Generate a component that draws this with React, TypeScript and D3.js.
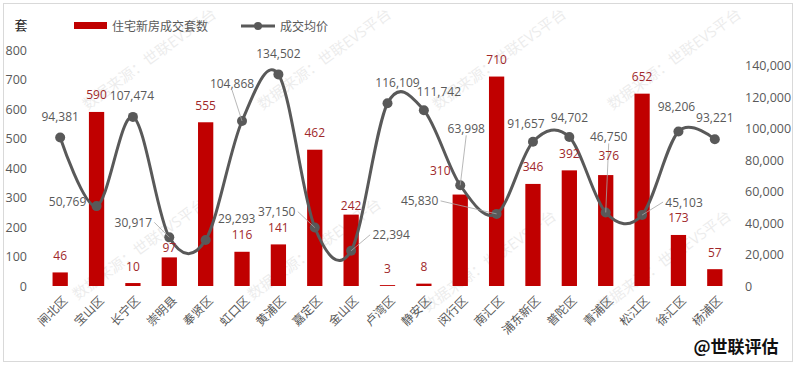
import React from 'react';
import * as d3 from 'd3';

const districts = ['闸北区', '宝山区', '长宁区', '崇明县', '奉贤区', '虹口区', '黄浦区', '嘉定区', '金山区', '卢湾区', '静安区', '闵行区', '南汇区', '浦东新区', '普陀区', '青浦区', '松江区', '徐汇区', '杨浦区'];
const units = [46, 590, 10, 97, 555, 116, 141, 462, 242, 3, 8, 310, 710, 346, 392, 376, 652, 173, 57];
const prices = [94381, 50769, 107474, 30917, 29293, 104868, 134502, 37150, 22394, 116109, 111742, 63998, 45830, 91657, 94702, 46750, 45103, 98206, 93221];
const unitTicks = [0, 100, 200, 300, 400, 500, 600, 700, 800];
const priceTicks = [0, 20000, 40000, 60000, 80000, 100000, 120000, 140000];

// label nudges (dx, dy from the point), leader = draw a thin connector
const priceLabelPos: [number, number, boolean][] = [
  [0, -21, false], [-29, -5, false], [-1, -21, false], [-36, -15, true], [31, -21, false],
  [-10, -38, true], [0, -21, false], [-38, -16, true], [40, -16, true], [10, -21, false],
  [15, -19, false], [6, -57, true], [-77, -13, true], [-7, -18, false], [0, -20, false],
  [3, -76, true], [42, -13, true], [-2, -25, false], [0, -22, false],
];
const unitLabelPos: Record<number, [number, number]> = { 3: [0, -10], 8: [0, -9], 11: [-20, -24], 15: [3, -20] };

const W = 800;
const H = 365;
const RED = '#c00000';
const GREY = '#595959';
const FONT = '"Open Sans", "Noto Sans CJK SC", sans-serif';

const x = d3.scaleBand<string>().domain(districts).range([42, 733]).paddingInner(0.58).paddingOuter(0.29);
const yL = d3.scaleLinear().domain([0, 800]).range([286, 50]);
const yR = d3.scaleLinear().domain([0, 150000]).range([286, 50]);
const cx = (i: number) => x(districts[i])! + x.bandwidth() / 2;

const line = d3
  .line<number>()
  .x((_, i) => cx(i))
  .y((d) => yR(d))
  .curve(d3.curveCatmullRom.alpha(0));

const fmt = d3.format(',');

const marks = [
  { x: 150, y: 60 }, { x: 325, y: 60 }, { x: 500, y: 60 }, { x: 675, y: 60 },
  { x: 140, y: 250 }, { x: 315, y: 250 }, { x: 490, y: 262 }, { x: 665, y: 262 },
];

export default function App() {
  return (
    <svg width={W} height={H} style={{ position: 'absolute', left: 0, top: 0, fontFamily: FONT }}>
      <rect x={0} y={0} width={W} height={H} fill="#fff" />
      <rect x={3.5} y={3.5} width={789} height={358} fill="none" stroke="#d9d9d9" />

      {/* watermark */}
      {marks.map((m, i) => (
        <text key={i} transform={`translate(${m.x},${m.y}) rotate(-36)`} textAnchor="middle" dominantBaseline="middle"
          fontSize={15} fill="#000" opacity={0.07}>
          数据来源：世联EVS平台
        </text>
      ))}

      {/* left axis */}
      <text x={21} y={25} textAnchor="middle" dominantBaseline="central" fontSize={13} fill="#222">套</text>
      {unitTicks.map((t) => (
        <text key={t} x={27} y={yL(t)} textAnchor="end" dominantBaseline="central" fontSize={12.5} fill={GREY}>{t}</text>
      ))}
      {/* right axis */}
      {priceTicks.map((t) => (
        <text key={t} x={745} y={yR(t)} dominantBaseline="central" fontSize={12.5} fill={GREY}>{fmt(t)}</text>
      ))}

      {/* legend */}
      <rect x={74} y={22} width={33} height={7} fill={RED} />
      <text x={112} y={26} dominantBaseline="central" fontSize={12} fill={GREY}>住宅新房成交套数</text>
      <line x1={241} x2={275} y1={26} y2={26} stroke={GREY} strokeWidth={3} />
      <circle cx={258} cy={26} r={4} fill={GREY} />
      <text x={280} y={26} dominantBaseline="central" fontSize={12} fill={GREY}>成交均价</text>

      {/* bars */}
      {units.map((u, i) => (
        <rect key={i} x={x(districts[i])} y={yL(u)} width={x.bandwidth()} height={yL(0) - yL(u)} fill={RED} />
      ))}

      {/* price line */}
      <path d={line(prices) || ''} fill="none" stroke={GREY} strokeWidth={3} />
      {prices.map((p, i) => (
        <circle key={i} cx={cx(i)} cy={yR(p)} r={5} fill={GREY} />
      ))}

      {/* leader lines */}
      {prices.map((p, i) => {
        const [dx, dy, leader] = priceLabelPos[i];
        if (!leader) return null;
        const px = cx(i);
        const py = yR(p);
        const lx = px + dx + (Math.abs(dx) > 20 ? (dx < 0 ? 21 : -21) : 0);
        const ly = py + dy + (Math.abs(dx) > 20 ? 0 : 7);
        return <line key={i} x1={lx} y1={ly} x2={px} y2={py} stroke="#a6a6a6" strokeWidth={0.8} />;
      })}

      {/* bar labels */}
      {units.map((u, i) => {
        const [dx, dy] = unitLabelPos[i] || [0, -17];
        return (
          <text key={i} x={cx(i) + dx} y={yL(u) + dy} textAnchor="middle" dominantBaseline="central" fontSize={12} fill="#a0282a">
            {u}
          </text>
        );
      })}

      {/* price labels */}
      {prices.map((p, i) => {
        const [dx, dy] = priceLabelPos[i];
        return (
          <text key={i} x={cx(i) + dx} y={yR(p) + dy} textAnchor="middle" dominantBaseline="central" fontSize={12} fill={GREY}>
            {fmt(p)}
          </text>
        );
      })}

      {/* category labels */}
      {districts.map((d, i) => (
        <text key={d} transform={`translate(${cx(i) + 5},${298}) rotate(-45)`} textAnchor="end" dominantBaseline="central"
          fontSize={12} fill={GREY}>
          {d}
        </text>
      ))}

      <text x={736} y={345} textAnchor="middle" dominantBaseline="central" fontSize={17} fontWeight="bold" fill="#111"
        fontFamily='"Noto Sans CJK SC", sans-serif'>
        @世联评估
      </text>
    </svg>
  );
}
